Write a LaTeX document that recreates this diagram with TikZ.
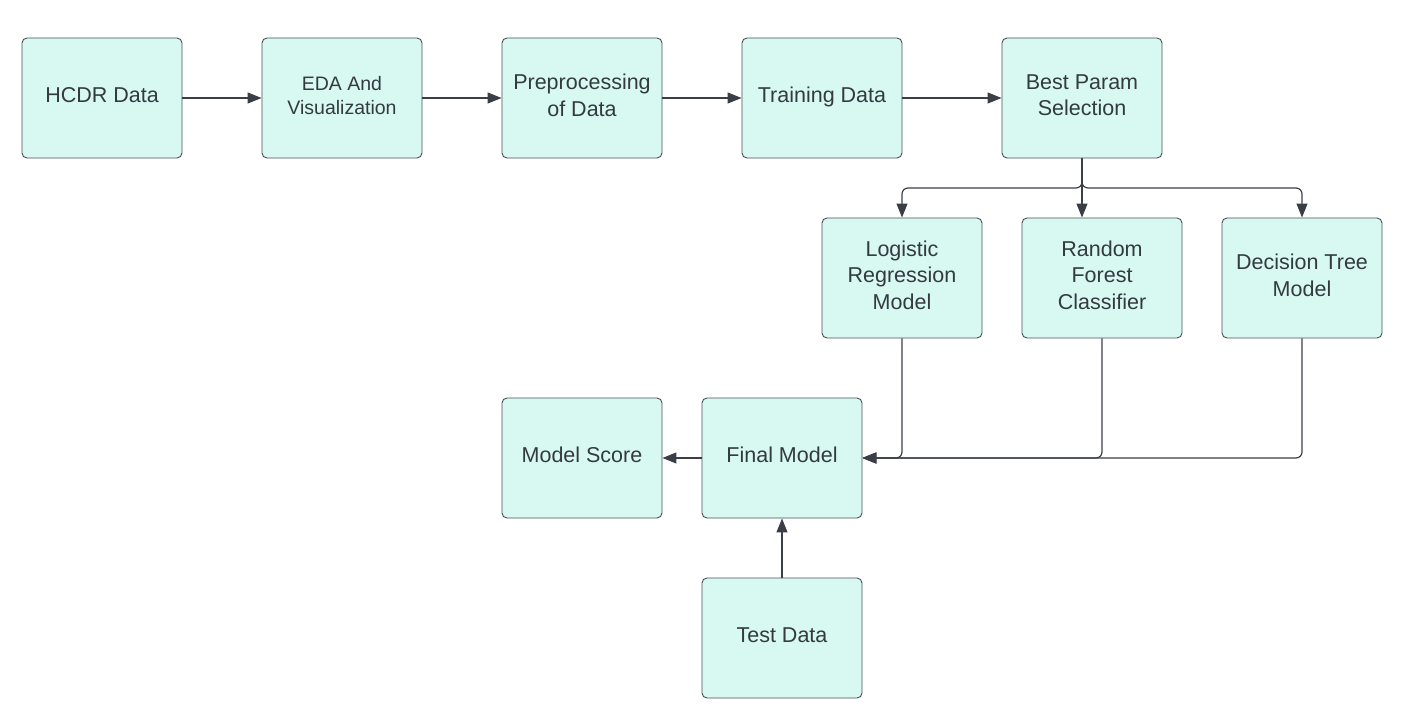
\documentclass[tikz,border=0pt]{standalone}
\usepackage{fontspec}
\setmainfont{Liberation Sans}
\usetikzlibrary{arrows.meta}
\definecolor{boxfill}{HTML}{D8F8F2}
\definecolor{boxline}{HTML}{4A4F55}
\definecolor{txt}{HTML}{333A40}
\definecolor{arr}{HTML}{3A3F47}
\begin{document}
\begin{tikzpicture}[x=1pt,y=-1pt,
  box/.style={draw=boxline, fill=boxfill, rounded corners=5pt, minimum width=160pt,
    minimum height=120pt, line width=0.9pt, text=txt, align=center, inner sep=0pt,
    text depth=6pt, font=\fontsize{21.5}{26.5}\selectfont},
  smallbox/.style={box, font=\fontsize{19.5}{24}\selectfont},
  conn/.style={draw=arr, line width=1.2pt, rounded corners=6pt,
    -{Triangle[length=14pt,width=11pt]}}]
\useasboundingbox (0,0) rectangle (1406,711);
\node[box] (hcdr) at (102,98) {HCDR Data};
\node[smallbox] (eda) at (342,98) {EDA And\\Visualization};
\node[box] (prep) at (582,98) {Preprocessing\\of Data};
\node[box] (train) at (822,98) {Training Data};
\node[box] (best) at (1082,98) {Best Param\\Selection};
\node[box] (lr) at (902,278) {Logistic\\Regression\\Model};
\node[box] (rf) at (1102,278) {Random\\Forest\\Classifier};
\node[box] (dt) at (1302,278) {Decision Tree\\Model};
\node[box] (score) at (582,458) {Model Score};
\node[box] (final) at (782,458) {Final Model};
\node[box] (test) at (782,638) {Test Data};
\coordinate (split) at (1082,188);
\draw[conn] (hcdr) -- (eda);
\draw[conn] (eda) -- (prep);
\draw[conn] (prep) -- (train);
\draw[conn] (train) -- (best);
\draw[conn] (best.south) -- (split) -| (lr.north);
\draw[conn] (best.south) -- (split) -| (dt.north);
\draw[conn] (best.south) -- (best.south |- rf.north);
\draw[conn] (lr.south) |- (final.east);
\draw[conn] (rf.south) |- (final.east);
\draw[conn] (dt.south) |- (final.east);
\draw[conn] (final) -- (score);
\draw[conn] (test) -- (final);
\end{tikzpicture}
\end{document}
